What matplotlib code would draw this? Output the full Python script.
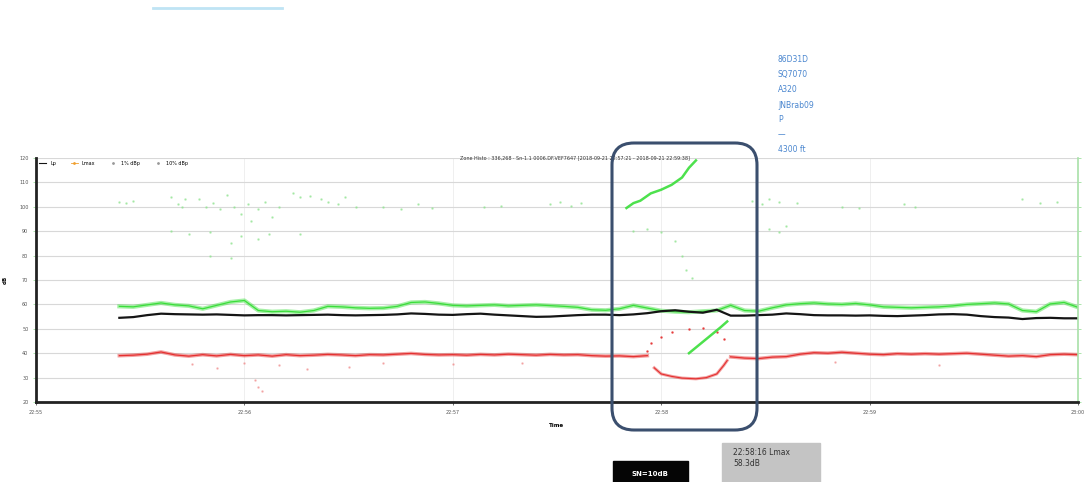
import numpy as np
import matplotlib
matplotlib.use("Agg")
import matplotlib.pyplot as plt
from matplotlib.patches import FancyBboxPatch, Rectangle
from matplotlib.lines import Line2D

# time in seconds after 22:55:00
t = np.arange(24, 301, 4)

lp_db = [54.5, 54.8, 55.6, 56.2, 56.0, 55.9, 55.8, 55.9, 55.7, 55.5, 55.6, 55.6, 55.5, 55.6,
         55.7, 55.8, 55.6, 55.5, 55.6, 55.7, 55.9, 56.3, 56.1, 55.8, 55.7, 56.0, 56.2, 55.8,
         55.5, 55.2, 54.9, 55.0, 55.3, 55.6, 55.8, 55.8, 55.6, 55.9, 56.4, 57.2, 57.6, 57.0,
         56.6, 57.8, 55.4, 55.4, 55.6, 55.8, 56.3, 56.0, 55.6, 55.5, 55.5, 55.4, 55.5, 55.3,
         55.2, 55.4, 55.6, 55.9, 56.0, 55.8, 55.2, 54.8, 54.6, 54.0, 54.4, 54.5, 54.3, 54.3]

lmax_db = [59.2, 59.0, 59.8, 60.6, 59.8, 59.4, 58.2, 59.6, 61.0, 61.6, 57.5, 57.0, 57.2, 56.8,
           57.5, 59.2, 59.0, 58.6, 58.4, 58.5, 59.2, 60.8, 61.0, 60.4, 59.6, 59.4, 59.6, 59.8,
           59.4, 59.6, 59.8, 59.5, 59.2, 58.8, 57.8, 57.6, 58.2, 59.6, 58.5, 57.4, 57.0, 56.8,
           57.2, 57.5, 59.6, 57.5, 57.2, 58.6, 59.8, 60.3, 60.6, 60.2, 60.0, 60.4, 59.8, 59.0,
           58.8, 58.6, 58.8, 59.0, 59.4, 60.0, 60.3, 60.6, 60.2, 57.5, 57.0, 60.2, 60.8, 58.8]

l90_db = [39.0, 39.2, 39.6, 40.5, 39.3, 38.8, 39.4, 38.9, 39.5, 39.0, 39.3, 38.8, 39.4, 39.0,
          39.2, 39.5, 39.3, 39.0, 39.4, 39.3, 39.6, 39.9, 39.5, 39.3, 39.4, 39.2, 39.5, 39.3,
          39.6, 39.4, 39.2, 39.5, 39.3, 39.4, 39.0, 38.8, 38.9, 38.6, 39.0, np.nan, np.nan,
          np.nan, np.nan, np.nan, 38.5, 38.0, 37.8, 38.4, 38.6, 39.6, 40.2, 40.0, 40.4, 40.0,
          39.6, 39.4, 39.8, 39.6, 39.8, 39.6, 39.8, 40.0, 39.6, 39.2, 38.8, 39.0, 38.6, 39.4,
          39.6, 39.4]

# event (aircraft) section
red_up_t = [176, 177, 180, 183, 188, 192, 196, 198]
red_up_db = [41.0, 44.0, 46.5, 48.7, 50.0, 50.5, 48.5, 46.0]
red_low_t = [178, 180, 183, 186, 190, 193, 196, 198, 199]
red_low_db = [34.0, 31.5, 30.5, 29.8, 29.5, 30.0, 31.5, 35.0, 37.0]
green_diag_t = [188, 191, 194, 197, 199]
green_diag_db = [40.0, 43.5, 47.0, 50.5, 53.0]
green_top_t = [170, 172, 174, 177, 180, 183, 186, 188, 190]
green_top_db = [99.5, 101.5, 102.5, 105.5, 107.0, 109.0, 112.0, 116.0, 119.0]

# sparse high-level points
spk_t = [24, 26, 28, 39, 41, 42, 43, 47, 49, 51, 53, 55, 57, 59, 61, 62, 64, 66, 68, 70,
         74, 76, 79, 82, 84, 87, 89, 92, 100, 105, 110, 114, 129, 134, 148, 151, 154, 157,
         39, 44, 50, 56, 59, 64, 67, 76, 50, 56,
         172, 176, 180, 184, 186, 187, 189,
         206, 209, 211, 214, 219, 211, 214, 216, 232, 237, 250, 253, 284, 289, 294]
spk_db = [102, 101.5, 102.5, 104, 101, 100, 103, 103, 100, 101.5, 99, 105, 100, 97, 101, 94,
          99, 102, 96, 100, 105.5, 104, 104.5, 103, 102, 101, 104, 100, 100, 99, 101, 99.5,
          100, 100.5, 101, 102, 100.5, 101.5,
          90, 89, 89.5, 85, 88, 87, 89, 89, 80, 79,
          90, 91, 89.5, 86, 80, 74, 71,
          102.5, 101, 103, 102, 101.5, 91, 89.5, 92, 100, 99.5, 101, 100, 103, 101.5, 102]

red_spk_t = [45, 52, 60, 63, 64, 65, 70, 78, 90, 100, 120, 140, 230, 260]
red_spk_db = [35.5, 34, 36, 29, 26, 24.5, 35, 33.5, 34.5, 36, 35.5, 36, 36.5, 35]

minute_ticks = [0, 60, 120, 180, 240, 300]
minute_labels = ["22:55", "22:56", "22:57", "22:58", "22:59", "23:00"]
y_ticks = [20, 30, 40, 50, 60, 70, 80, 90, 100, 110, 120]

green = "#3ade3a"
red = "#e53030"

fig = plt.figure(figsize=(10.86, 4.82), dpi=100)
ax = fig.add_axes([36 / 1086, 1 - 402 / 482, 1042 / 1086, 244 / 482])

ax.plot(spk_t, spk_db, ".", color="#8fe48f", ms=1.6, alpha=0.6)
ax.plot(red_spk_t, red_spk_db, ".", color="#f08a8a", ms=1.5, alpha=0.6)
ax.plot(t, l90_db, "-", color=red, lw=2.6, alpha=0.45)
ax.plot(t, l90_db, "-", color=red, lw=0.9)
ax.plot(red_up_t, red_up_db, ".", color=red, ms=1.6, alpha=0.8)
ax.plot(red_low_t, red_low_db, "-", color=red, lw=2.2, alpha=0.45)
ax.plot(red_low_t, red_low_db, "-", color=red, lw=0.8)
ax.plot(t, lmax_db, "-", color=green, lw=3.0, alpha=0.45)
ax.plot(t, lmax_db, "-", color=green, lw=0.9)
ax.plot(green_diag_t, green_diag_db, "-", color=green, lw=1.8, alpha=0.9)
ax.plot(green_top_t, green_top_db, "-", color=green, lw=1.8, alpha=0.9)
ax.plot(t, lp_db, "-", color="#151515", lw=1.6)

ax.set_xlim(0, 300)
ax.set_ylim(20, 120)
ax.set_xticks(minute_ticks, minute_labels)
ax.set_yticks(y_ticks)
ax.tick_params(labelsize=3.5, colors="#555555", length=2, width=0.6)
ax.tick_params(axis="y", right=True, color="#9fe09f")
ax.grid(axis="y", color="#d8d8d8", lw=0.8)
ax.grid(axis="x", color="#ececec", lw=0.6)
ax.set_axisbelow(True)
for s in ["left", "bottom"]:
    ax.spines[s].set_linewidth(2)
    ax.spines[s].set_color("#222222")
ax.spines["top"].set_visible(False)
ax.spines["right"].set_color("#a8e0a8")
ax.spines["right"].set_linewidth(1.2)
ax.set_xlabel("Time", fontsize=4, fontweight="bold", labelpad=6)
ax.set_ylabel("dB", fontsize=4, fontweight="bold", labelpad=8)
ax.text(0.517, 1.0, "Zone Histo : 336,268 · Sn-1.1 0006.DF.VEF7647 [2018-09-21 22:57:21 - 2018-09-21 22:59:38]",
        transform=ax.transAxes, ha="center", va="center", fontsize=3.5, color="#333333")

handles = [Line2D([], [], color="#151515", lw=0.8),
           Line2D([], [], color="#f0a030", marker=".", lw=0.6, ms=2),
           Line2D([], [], color="#999999", marker=".", lw=0, ms=2),
           Line2D([], [], color="#999999", marker=".", lw=0, ms=2)]
ax.legend(handles, ["Lp", "Lmax", "1% dBp", "10% dBp"], loc="upper left", ncol=4, fontsize=3.5,
          frameon=False, handlelength=1.5, columnspacing=3, borderaxespad=0.2)

# annotations overlaid on the screenshot (figure pixel coordinates)
fig.add_artist(FancyBboxPatch((612, 52), 145, 287, boxstyle="round,pad=0,rounding_size=22",
                              transform=None, fill=False, ec="#3b4f6e", lw=2.2))
fig.add_artist(Line2D([153, 282], [474, 474], transform=None, color="#bfe4f4", lw=2))
labels = ["86D31D", "SQ7070", "A320", "JNBrab09", "P", "—", "4300 ft"]
for i, s in enumerate(labels):
    fig.text(778, 422 - i * 15, s, transform=None, fontsize=5.5, color="#4a86cf", va="center")
fig.add_artist(Rectangle((613, 0), 75, 21, transform=None, color="#050505"))
fig.text(650, 8, "SN=10dB", transform=None, fontsize=5, color="white", fontweight="bold",
         ha="center", va="center")
fig.add_artist(Rectangle((722, 0), 98, 39, transform=None, color="#c4c4c4"))
fig.text(733, 24, "22:58:16 Lmax\n58.3dB", transform=None, fontsize=5.5, color="#333333",
         va="center", linespacing=1.2)

fig.savefig("out.png", dpi=100)
